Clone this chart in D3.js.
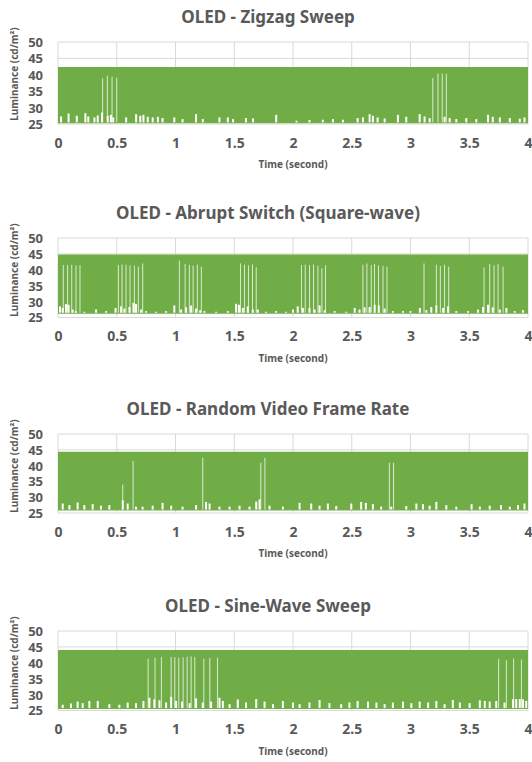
<!DOCTYPE html>
<html>
<head>
<meta charset="utf-8">
<script src="https://cdn.jsdelivr.net/npm/d3@7"></script>
<style>
  body { margin: 0; background: #fff; }
  text { font-family: 'Noto Sans', 'Open Sans', sans-serif; }
</style>
</head>
<body>
<div id="chart"></div>
<script>
// titles and levels per panel
const titles = [
  'OLED - Zigzag Sweep',
  'OLED - Abrupt Switch (Square-wave)',
  'OLED - Random Video Frame Rate',
  'OLED - Sine-Wave Sweep'
];
const xTicks = [0, 0.5, 1, 1.5, 2, 2.5, 3, 3.5, 4];
const yTicks = [25, 30, 35, 40, 45, 50];
const xLabels = ['0', '0.5', '1', '1.5', '2', '2.5', '3', '3.5', '4'];

// peak / trough envelope of the luminance band (cd/m2)
const peakLevel = [42.4, 44.8, 44.4, 44.0];
const troughLevel = [25.2, 26.2, 25.8, 25.5];

// frames where the peak did not reach the top: [time, peak]
const zigzagDrops = [[0.38, 38.9], [0.42, 39.7], [0.46, 39.4], [0.50, 39.1],
  [3.19, 39.0], [3.234, 40.4], [3.27, 40.4], [3.305, 40.3]];
const squareDrops = [
  [0.045, 41.5], [0.082, 41.5], [0.117, 41.6], [0.153, 41.4], [0.187, 41.5],
  [0.514, 41.5], [0.545, 41.7], [0.579, 41.6], [0.613, 41.4], [0.65, 41.3], [0.684, 41.0], [0.721, 42.0],
  [1.033, 42.9], [1.082, 41.8], [1.118, 41.5], [1.15, 41.3], [1.186, 41.6], [1.22, 41.0],
  [1.553, 42.0], [1.587, 41.6], [1.621, 41.4], [1.655, 41.7], [1.687, 40.8],
  [2.072, 41.5], [2.104, 41.6], [2.141, 41.5], [2.175, 41.7], [2.212, 41.3], [2.246, 40.5], [2.277, 41.4],
  [2.595, 41.6], [2.629, 42.0], [2.666, 41.5], [2.694, 41.8], [2.728, 41.4], [2.766, 41.2], [2.8, 41.0],
  [3.115, 42.0], [3.22, 41.6], [3.254, 41.2], [3.29, 41.6], [3.325, 41.0],
  [3.626, 40.8], [3.674, 41.8], [3.711, 41.4], [3.745, 41.8], [3.788, 41.0]
];
const randomDrops = [[0.551, 34.0], [0.639, 41.5], [1.232, 42.5], [1.726, 40.9], [1.761, 42.5],
  [2.82, 40.9], [2.856, 40.9]];
const sineDrops = [
  [0.767, 41.3], [0.826, 41.6], [0.88, 41.8], [0.963, 41.8], [0.994, 41.8], [1.028, 41.6],
  [1.065, 41.8], [1.099, 41.9], [1.133, 42.0], [1.164, 41.8], [1.241, 41.3], [1.292, 41.5],
  [1.357, 41.6], [3.75, 41.2], [3.816, 40.8], [3.878, 41.4], [3.944, 41.0]
];

// frames whose trough stayed above the floor: [time, trough]
const zigzagTroughs = [
  [0.026, 27.3], [0.09, 28.2], [0.16, 27.5], [0.233, 28.3], [0.258, 27.3], [0.31, 27.0], [0.338, 27.6],
  [0.375, 28.5], [0.423, 27.5], [0.45, 27.8], [0.47, 27.0], [0.58, 27.0], [0.665, 28.0], [0.7, 27.5],
  [0.727, 27.8], [0.764, 27.2], [0.806, 27.0], [0.85, 27.2], [0.89, 26.8], [0.99, 27.0], [1.06, 26.5],
  [1.175, 28.0], [1.232, 26.5], [1.374, 27.0], [1.445, 27.0], [1.49, 26.5], [1.6, 26.8], [1.66, 26.7],
  [1.857, 27.8], [2.03, 26.0], [2.14, 26.2], [2.254, 26.3], [2.34, 26.5], [2.425, 26.3], [2.55, 26.8],
  [2.595, 27.0], [2.652, 28.0], [2.68, 27.5], [2.72, 27.0], [2.78, 26.7], [2.893, 27.8], [2.964, 27.2],
  [3.078, 28.0], [3.12, 27.3], [3.163, 26.8], [3.29, 27.2], [3.333, 26.8], [3.39, 26.5], [3.475, 26.8],
  [3.56, 26.5], [3.66, 27.8], [3.7, 27.2], [3.76, 27.0], [3.845, 26.8], [3.93, 26.6], [3.97, 27.0]
];
const squareTroughs = [
  [0.017, 28.5], [0.04, 28.0], [0.068, 29.2], [0.09, 29.0], [0.125, 27.5], [0.153, 27.0], [0.224, 26.8],
  [0.324, 27.5], [0.41, 27.0], [0.49, 28.0], [0.537, 28.5], [0.565, 27.8], [0.608, 28.3], [0.642, 29.6],
  [0.664, 29.3], [0.707, 27.5], [0.75, 27.0], [0.835, 26.8], [0.92, 27.0], [0.99, 28.8], [1.048, 27.5],
  [1.09, 28.2], [1.133, 28.8], [1.175, 27.8], [1.21, 27.3], [1.246, 27.0], [1.346, 26.8], [1.445, 27.0],
  [1.516, 29.3], [1.54, 29.0], [1.573, 28.0], [1.615, 28.5], [1.658, 27.5], [1.7, 27.5], [1.77, 26.8],
  [1.857, 27.0], [1.94, 26.8], [2.0, 27.5], [2.04, 28.5], [2.084, 28.0], [2.14, 28.0], [2.184, 27.5],
  [2.226, 28.8], [2.27, 27.3], [2.354, 27.0], [2.453, 26.8], [2.525, 28.0], [2.566, 27.5], [2.609, 28.2],
  [2.652, 28.3], [2.695, 29.0], [2.73, 28.8], [2.78, 27.8], [2.85, 27.0], [2.936, 27.0], [3.0, 27.0],
  [3.08, 28.0], [3.135, 27.3], [3.177, 28.3], [3.22, 28.8], [3.277, 28.0], [3.32, 28.5], [3.39, 27.0],
  [3.49, 27.0], [3.575, 27.5], [3.617, 28.3], [3.66, 29.0], [3.7, 28.2], [3.76, 27.5], [3.816, 28.0],
  [3.887, 27.0], [3.957, 27.3]
];
const randomTroughs = [
  [0.04, 28.0], [0.097, 27.5], [0.167, 28.3], [0.224, 27.5], [0.295, 27.8], [0.366, 27.3], [0.437, 27.5],
  [0.551, 29.0], [0.593, 28.0], [0.664, 27.0], [0.72, 27.0], [0.806, 27.3], [0.89, 28.2], [0.963, 27.3],
  [1.06, 27.0], [1.175, 27.5], [1.26, 28.5], [1.29, 28.0], [1.374, 27.0], [1.46, 27.0], [1.545, 27.3],
  [1.63, 27.0], [1.687, 28.6], [1.715, 29.3], [1.8, 27.3], [1.914, 27.0], [2.056, 28.2], [2.155, 28.0],
  [2.226, 27.3], [2.297, 28.0], [2.368, 27.2], [2.496, 28.0], [2.58, 28.5], [2.62, 28.2], [2.68, 27.8],
  [2.75, 27.0], [2.836, 27.0], [2.964, 27.2], [3.05, 28.0], [3.106, 27.8], [3.163, 27.3], [3.22, 28.5],
  [3.305, 27.5], [3.39, 27.0], [3.52, 27.8], [3.59, 27.0], [3.674, 27.3], [3.77, 27.5], [3.845, 27.0],
  [3.915, 27.5], [3.97, 28.0]
];
const sineTroughs = [
  [0.04, 26.8], [0.11, 27.2], [0.167, 27.8], [0.21, 27.3], [0.267, 28.0], [0.338, 28.0], [0.437, 27.0],
  [0.522, 26.8], [0.593, 27.5], [0.664, 27.3], [0.727, 28.0], [0.778, 29.0], [0.82, 28.5], [0.863, 28.2],
  [0.92, 27.5], [0.963, 29.3], [1.005, 28.0], [1.056, 27.8], [1.12, 27.3], [1.175, 28.8], [1.232, 27.5],
  [1.303, 27.8], [1.374, 29.0], [1.403, 28.0], [1.46, 27.0], [1.53, 28.5], [1.6, 27.5], [1.687, 28.6],
  [1.758, 27.8], [1.83, 27.0], [1.914, 28.0], [2.0, 27.5], [2.056, 27.0], [2.14, 27.5], [2.226, 28.3],
  [2.31, 27.3], [2.41, 27.0], [2.48, 27.5], [2.55, 28.0], [2.638, 27.8], [2.71, 27.5], [2.78, 27.0],
  [2.85, 27.5], [2.936, 27.8], [3.007, 27.3], [3.078, 27.8], [3.15, 27.5], [3.22, 28.0], [3.29, 27.0],
  [3.36, 28.3], [3.42, 27.5], [3.503, 27.3], [3.59, 28.2], [3.632, 28.0], [3.674, 27.8], [3.73, 28.0],
  [3.8, 27.5], [3.873, 28.5], [3.9, 28.6], [3.93, 28.6], [3.957, 28.5], [3.985, 28.0]
];

const drops = [zigzagDrops, squareDrops, randomDrops, sineDrops];
const troughs = [zigzagTroughs, squareTroughs, randomTroughs, sineTroughs];

const width = 532, height = 762;
const left = 58, right = 528;
const plotTops = [42, 238, 434, 631];
const plotH = [82, 79.5, 79, 79.5];
const green = '#70ad47', grey = '#595959', grid = '#d9d9d9';

const svg = d3.select('#chart').append('svg')
  .attr('width', width)
  .attr('height', height);

const x = d3.scaleLinear().domain([0, 4]).range([left, right]);

titles.forEach((title, i) => {
  const top = plotTops[i];
  const y = d3.scaleLinear().domain([25, 50]).range([top + plotH[i], top]);
  const g = svg.append('g');

  // grid
  g.append('g')
    .selectAll('line.v')
    .data(xTicks)
    .join('line')
    .attr('x1', d => x(d)).attr('x2', d => x(d))
    .attr('y1', y(50)).attr('y2', y(25))
    .attr('stroke', grid).attr('stroke-width', 1);
  g.append('g')
    .selectAll('line.h')
    .data(yTicks)
    .join('line')
    .attr('x1', x(0)).attr('x2', x(4))
    .attr('y1', d => y(d)).attr('y2', d => y(d))
    .attr('stroke', grid).attr('stroke-width', 1);

  // luminance band
  const area = d3.area()
    .x(d => x(d))
    .y0(y(troughLevel[i]))
    .y1(y(peakLevel[i]));
  g.append('path')
    .datum([0, 4])
    .attr('d', area)
    .attr('fill', green);

  // troughs that stayed high
  g.append('g')
    .selectAll('rect')
    .data(troughs[i])
    .join('rect')
    .attr('x', d => x(d[0]) - 1)
    .attr('width', 2)
    .attr('y', d => y(d[1]))
    .attr('height', d => y(troughLevel[i] + 0.3) - y(d[1]))
    .attr('fill', '#fff');

  // peaks that dropped
  g.append('g')
    .selectAll('line')
    .data(drops[i])
    .join('line')
    .attr('x1', d => x(d[0])).attr('x2', d => x(d[0]))
    .attr('y1', d => y(d[1]))
    .attr('y2', y(troughLevel[i] + 0.3))
    .attr('stroke', '#fff')
    .attr('stroke-opacity', 0.75)
    .attr('stroke-width', 1);

  // axes
  const yAxis = g.append('g')
    .attr('transform', `translate(${left - 15},0)`)
    .call(d3.axisLeft(y).tickValues(yTicks).tickSize(0).tickPadding(0));
  yAxis.select('.domain').remove();
  yAxis.selectAll('text')
    .attr('fill', grey)
    .style('font-size', '13px')
    .style('font-weight', 'bold')
    .attr('dy', '0.34em');

  const xAxis = g.append('g')
    .attr('transform', `translate(0,${y(25)})`)
    .call(d3.axisBottom(x).tickValues(xTicks).tickFormat((d, k) => xLabels[k]).tickSize(0).tickPadding(14));
  xAxis.select('.domain').remove();
  xAxis.selectAll('text')
    .attr('fill', grey)
    .style('font-size', '14px')
    .style('font-weight', 'bold');

  // titles and axis labels
  svg.append('text')
    .attr('x', 268)
    .attr('y', top - 19)
    .attr('text-anchor', 'middle')
    .attr('fill', grey)
    .style('font-size', '17px')
    .style('font-weight', 'bold')
    .text(title);

  svg.append('text')
    .attr('x', (left + right) / 2)
    .attr('y', y(25) + 44)
    .attr('text-anchor', 'middle')
    .attr('fill', grey)
    .style('font-size', '10px')
    .style('font-weight', 'bold')
    .text('Time (second)');

  svg.append('text')
    .attr('transform', `translate(18,${top + 32}) rotate(-90)`)
    .attr('text-anchor', 'middle')
    .attr('fill', grey)
    .style('font-size', '10px')
    .style('font-weight', 'bold')
    .text('Luminance (cd/m²)');
});
</script>
</body>
</html>
